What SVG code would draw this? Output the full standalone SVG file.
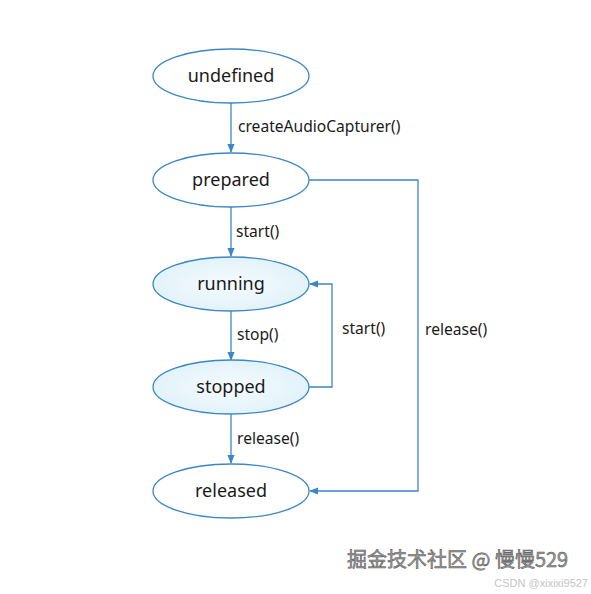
<svg xmlns="http://www.w3.org/2000/svg" width="591" height="594" viewBox="0 0 591 594">
<defs>
<style>
.node{fill:#fff;stroke:#3b87c6;stroke-width:1.3}
.act{fill:url(#g)}
.nt{font-family:"Noto Sans","Open Sans",sans-serif;font-size:18px;fill:#1a1a1a;text-anchor:middle}
.et{font-family:"Noto Sans","Open Sans",sans-serif;font-size:15.6px;fill:#1a1a1a}
.edge{fill:none;stroke:#3b87c6;stroke-width:1.3}
</style>
<radialGradient id="g" cx="0.5" cy="0.5" r="0.6">
<stop offset="0" stop-color="#f4fbfe"/>
<stop offset="1" stop-color="#dff1f9"/>
</radialGradient>
<marker id="ah" viewBox="0 0 10 10" refX="9" refY="5" markerWidth="9" markerHeight="9" markerUnits="userSpaceOnUse" orient="auto">
<path d="M0,1 L10,5 L0,9 Z" fill="#3b87c6"/>
</marker>
</defs>
<rect width="591" height="594" fill="#fff"/>
<g id="connectors">
<path class="edge" d="M231,103 V152" marker-end="url(#ah)"/>
<path class="edge" d="M231,207 V256" marker-end="url(#ah)"/>
<path class="edge" d="M231,311 V360" marker-end="url(#ah)"/>
<path class="edge" d="M231,414 V463" marker-end="url(#ah)"/>
<path class="edge" d="M309,180 H418 V491 H310" marker-end="url(#ah)"/>
<path class="edge" d="M309,387 H332 V284 H310" marker-end="url(#ah)"/>
<text class="et" x="238" y="132">createAudioCapturer()</text>
<text class="et" x="236" y="237">start()</text>
<text class="et" x="237" y="340">stop()</text>
<text class="et" x="237" y="444">release()</text>
<text class="et" x="342" y="334">start()</text>
<text class="et" x="425" y="335">release()</text>
</g>
<g id="undefined"><ellipse class="node" cx="231" cy="76" rx="78" ry="27"/><text class="nt" x="231" y="82">undefined</text></g>
<g id="prepared"><ellipse class="node" cx="231" cy="180" rx="78" ry="27"/><text class="nt" x="231" y="186">prepared</text></g>
<g id="running"><ellipse class="node act" cx="231" cy="284" rx="78" ry="27"/><text class="nt" x="231" y="290">running</text></g>
<g id="stopped"><ellipse class="node act" cx="231" cy="387" rx="78" ry="27"/><text class="nt" x="231" y="393">stopped</text></g>
<g id="released"><ellipse class="node" cx="231" cy="491" rx="78" ry="27"/><text class="nt" x="231" y="497">released</text></g>
<g id="watermark">
<text x="347" y="567" font-family="'Noto Sans CJK SC',sans-serif" font-size="20" fill="#9a9a9a" stroke="#555" stroke-width="0.5">掘金技术社区 @ 慢慢529</text>
<text x="588" y="587" text-anchor="end" font-family="'Liberation Sans',sans-serif" font-size="11" fill="#c4c4c4">CSDN @xixixi9527</text>
</g>
</svg>
